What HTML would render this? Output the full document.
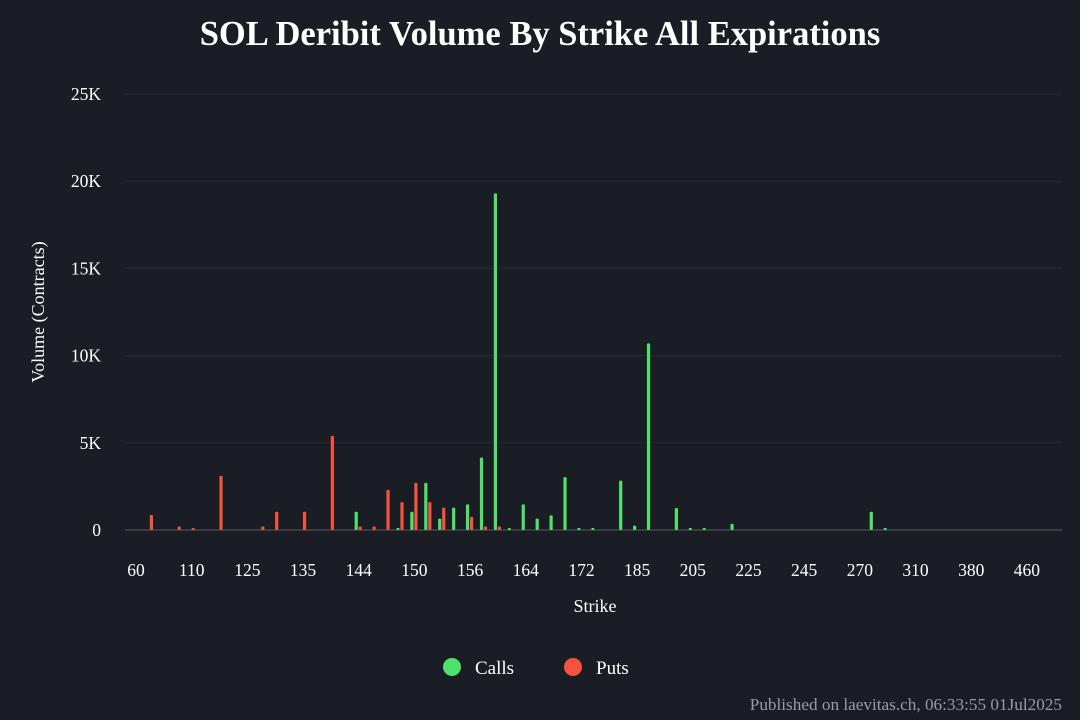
<!DOCTYPE html>
<html><head><meta charset="utf-8"><style>
html,body{margin:0;padding:0;background:#1b1d25;}
svg{display:block;font-family:"Liberation Serif",serif;}
</style></head><body>
<svg id="chart" width="1080" height="720" xmlns="http://www.w3.org/2000/svg">
<rect width="1080" height="720" fill="#1b1d25"/>
<text x="540" y="45" text-anchor="middle" font-size="34.5" font-weight="bold" fill="#ffffff">SOL Deribit Volume By Strike All Expirations</text>
<g id="grid"></g>
<g id="bars"></g>
<g id="xlabels"></g>
<text transform="translate(44,312) rotate(-90)" text-anchor="middle" font-size="18" fill="#ffffff">Volume (Contracts)</text>
<text x="595" y="612" text-anchor="middle" font-size="18" fill="#ffffff">Strike</text>
<g>
<g><circle cx="452" cy="667" r="9" fill="#4ee26b"/><text x="475" y="674" font-size="19" fill="#ffffff">Calls</text></g>
<g><circle cx="573" cy="667" r="9" fill="#f5533d"/><text x="596" y="674" font-size="19" fill="#ffffff">Puts</text></g>
</g>
<text x="1062" y="710" text-anchor="end" font-size="17.2" fill="#9a9ca3">Published on laevitas.ch, 06:33:55 01Jul2025</text>
</svg>
<script>
const strikes=[60,70,80,90,110,115,118,120,125,128,130,132,135,138,140,142,144,145,146,148,150,151,152,154,156,158,160,162,164,166,168,170,172,174,176,180,185,190,195,200,205,210,215,220,225,230,235,240,245,250,255,260,270,280,290,300,310,320,340,360,380,400,420,440,460,480,500];
const callStrikes=[144,148,150,151,152,154,156,158,160,162,164,166,168,170,172,174,180,185,190,200,205,210,220,280,290];
const callValues=[1050,100,1050,2700,650,1280,1470,4150,19300,100,1470,650,840,3030,100,100,2830,250,10700,1260,100,100,350,1050,100];
const putStrikes=[70,90,110,118,128,130,135,140,144,145,146,148,150,151,152,156,158,160];
const putValues=[860,200,100,3100,200,1050,1050,5400,200,200,2300,1600,2700,1600,1280,760,200,200];
const yTicks=[0,5000,10000,15000,20000,25000];
const yTickLabels=["0","5K","10K","15K","20K","25K"];

const NS="http://www.w3.org/2000/svg";
const x0=125,x1=1062,y0=530,yTop=94,yMax=25000;
const bw=13.92;
const xc=i=>136+bw*i;
const y=v=>y0-(v/yMax)*(y0-yTop);
function mk(tag,attrs,parent){const e=document.createElementNS(NS,tag);for(const k in attrs)e.setAttribute(k,attrs[k]);parent.appendChild(e);return e;}
const grid=document.getElementById('grid'),bars=document.getElementById('bars'),xl=document.getElementById('xlabels');
yTicks.forEach((t,i)=>{
  const l=mk('line',{x1:x0,x2:x1,y1:y(t),y2:y(t),stroke:t===0?'#44464c':'#2a2c33','stroke-width':t===0?1.5:1},grid);
  
  
  const tx=mk('text',{x:101,y:y(t)+6,'text-anchor':'end','font-size':17.5,fill:'#ffffff'},grid);
  tx.textContent=yTickLabels[i];
  
  
});
strikes.forEach((s,i)=>{
  if(i%4===0){
    const tx=mk('text',{x:xc(i),y:576,'text-anchor':'middle','font-size':17.5,fill:'#ffffff'},xl);
    tx.textContent=String(s);
    
    
  }
});
function drawBar(strike,v,off,color,name){
  const i=strikes.indexOf(strike);if(i<0)return;
  const h=Math.max(y0-y(v),2);
  const r=mk('rect',{x:xc(i)+off-1.6,y:y0-h,width:3.2,height:h,fill:color,rx:1},bars);
  
  
}
callStrikes.forEach((s,k)=>drawBar(s,callValues[k],-2.5,'#4ee26b','call-bar'));
putStrikes.forEach((s,k)=>drawBar(s,putValues[k],1.5,'#f5533d','put-bar'));
</script>
</body></html>
